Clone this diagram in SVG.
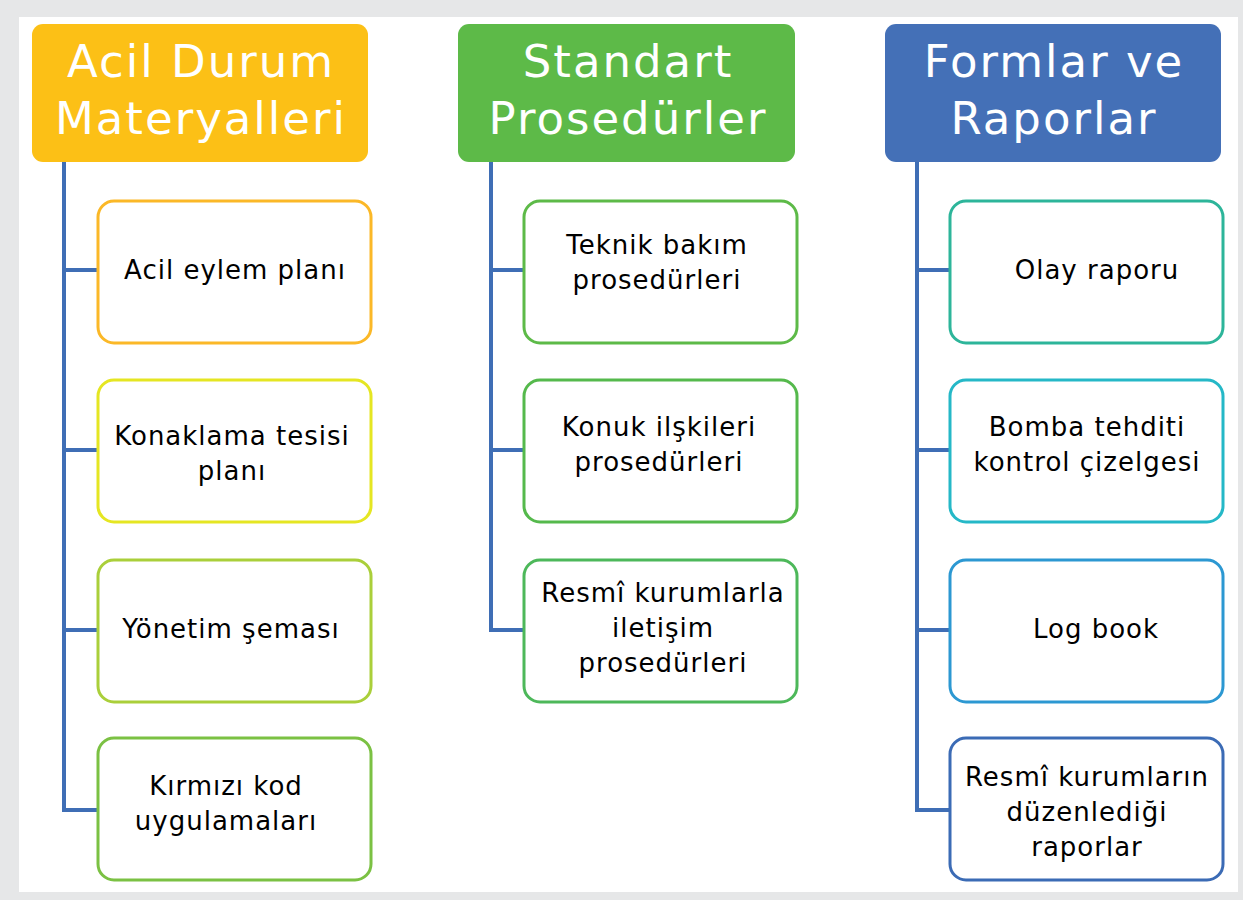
<svg xmlns="http://www.w3.org/2000/svg" width="1243" height="900" viewBox="0 0 1243 900">
<style>
.hd{font-family:"DejaVu Sans","Open Sans",sans-serif;font-size:45px;letter-spacing:2px;fill:#fff;text-anchor:middle}
.tx{font-family:"DejaVu Sans","Open Sans",sans-serif;font-size:26px;letter-spacing:1px;fill:#000;text-anchor:middle}
.box{fill:#fff;stroke-width:3}
.con{fill:none;stroke:#3F6EB5;stroke-width:4}
</style>
<rect x="0" y="0" width="1243" height="900" fill="#E6E7E8"/>
<rect x="19" y="17" width="1219" height="875" fill="#fff"/>
<g id="connectors">
<path class="con" d="M64 162 V810 H97 M64 270 H97 M64 450 H97 M64 630 H97"/>
<path class="con" d="M491 162 V630 H523 M491 270 H523 M491 450 H523"/>
<path class="con" d="M917 162 V810 H949 M917 270 H949 M917 450 H949 M917 630 H949"/>
</g>
<g id="h1"><rect x="32" y="24" width="336" height="138" rx="11" fill="#FCC016"/>
<text class="hd" x="201" y="77">Acil Durum</text><text class="hd" x="201" y="134">Materyalleri</text></g>
<g id="h2"><rect x="458" y="24" width="337" height="138" rx="11" fill="#5DBA48"/>
<text class="hd" x="628" y="77">Standart</text><text class="hd" x="628" y="134">Prosedürler</text></g>
<g id="h3"><rect x="885" y="24" width="336" height="138" rx="11" fill="#4470B7"/>
<text class="hd" x="1054" y="77">Formlar ve</text><text class="hd" x="1054" y="134">Raporlar</text></g>

<g id="a1"><rect class="box" x="98" y="201" width="273" height="142" rx="16" stroke="#FBB827"/>
<text class="tx" x="235" y="279">Acil eylem planı</text></g>
<g id="a2"><rect class="box" x="98" y="380" width="273" height="142" rx="16" stroke="#E5E622"/>
<text class="tx" x="232" y="445">Konaklama tesisi</text><text class="tx" x="232" y="480">planı</text></g>
<g id="a3"><rect class="box" x="98" y="560" width="273" height="142" rx="16" stroke="#AACF3A"/>
<text class="tx" x="231" y="638">Yönetim şeması</text></g>
<g id="a4"><rect class="box" x="98" y="738" width="273" height="142" rx="16" stroke="#7BC143"/>
<text class="tx" x="226" y="795">Kırmızı kod</text><text class="tx" x="226" y="830">uygulamaları</text></g>

<g id="b1"><rect class="box" x="524" y="201" width="273" height="142" rx="16" stroke="#5DBA48"/>
<text class="tx" x="657" y="254">Teknik bakım</text><text class="tx" x="657" y="289">prosedürleri</text></g>
<g id="b2"><rect class="box" x="524" y="380" width="273" height="142" rx="16" stroke="#55B94C"/>
<text class="tx" x="659" y="436">Konuk ilşkileri</text><text class="tx" x="659" y="471">prosedürleri</text></g>
<g id="b3"><rect class="box" x="524" y="560" width="273" height="142" rx="16" stroke="#4DB85A"/>
<text class="tx" x="663" y="602">Resmî kurumlarla</text><text class="tx" x="663" y="637">iletişim</text><text class="tx" x="663" y="672">prosedürleri</text></g>

<g id="c1"><rect class="box" x="950" y="201" width="273" height="142" rx="16" stroke="#2DB59A"/>
<text class="tx" x="1097" y="279">Olay raporu</text></g>
<g id="c2"><rect class="box" x="950" y="380" width="273" height="142" rx="16" stroke="#25B8C7"/>
<text class="tx" x="1087" y="436">Bomba tehditi</text><text class="tx" x="1087" y="471">kontrol çizelgesi</text></g>
<g id="c3"><rect class="box" x="950" y="560" width="273" height="142" rx="16" stroke="#2C98D2"/>
<text class="tx" x="1096" y="638">Log book</text></g>
<g id="c4"><rect class="box" x="950" y="738" width="273" height="142" rx="16" stroke="#3B6BB5"/>
<text class="tx" x="1087" y="786">Resmî kurumların</text><text class="tx" x="1087" y="821">düzenlediği</text><text class="tx" x="1087" y="856">raporlar</text></g>
</svg>
